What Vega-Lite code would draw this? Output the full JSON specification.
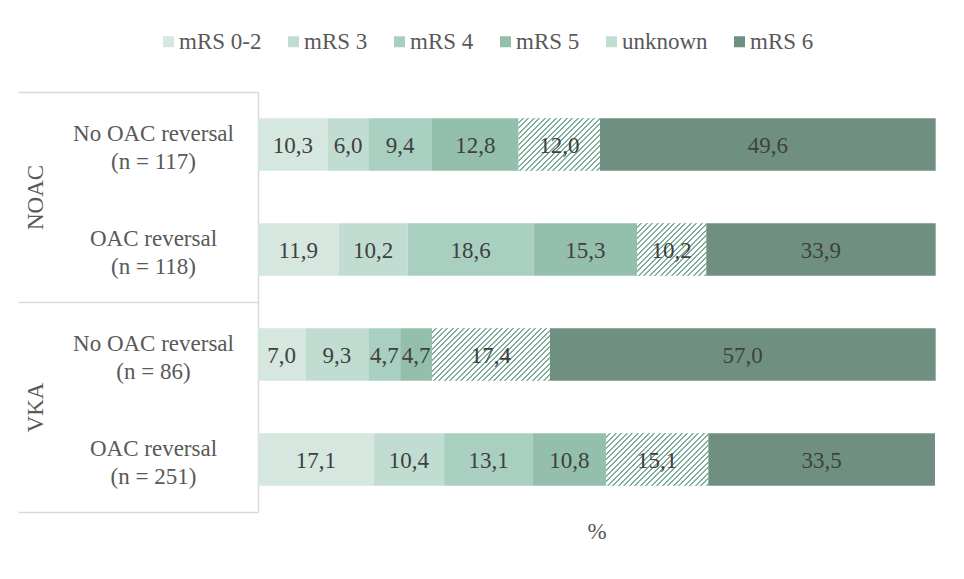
{
  "$schema": "https://vega.github.io/schema/vega-lite/v6.json",
  "width": 677,
  "height": 420,
  "autosize": {"type": "none"},
  "padding": {"left": 258, "top": 92, "right": 29, "bottom": 67},
  "config": {
    "font": "Liberation Serif",
    "view": {"stroke": null},
    "locale": {"number": {"decimal": ",", "thousands": ".", "grouping": [3], "currency": ["", " €"]}}
  },
  "params": [
    {
      "name": "hatchStops",
      "value": [
        {"offset": 0, "color": "#fff"}, {"offset": 0.021, "color": "#fff"}, {"offset": 0.021, "color": "#7fae9c"}, {"offset": 0.0323, "color": "#7fae9c"},
        {"offset": 0.0323, "color": "#fff"}, {"offset": 0.0532, "color": "#fff"}, {"offset": 0.0532, "color": "#7fae9c"}, {"offset": 0.0645, "color": "#7fae9c"},
        {"offset": 0.0645, "color": "#fff"}, {"offset": 0.0855, "color": "#fff"}, {"offset": 0.0855, "color": "#7fae9c"}, {"offset": 0.0968, "color": "#7fae9c"},
        {"offset": 0.0968, "color": "#fff"}, {"offset": 0.1177, "color": "#fff"}, {"offset": 0.1177, "color": "#7fae9c"}, {"offset": 0.129, "color": "#7fae9c"},
        {"offset": 0.129, "color": "#fff"}, {"offset": 0.15, "color": "#fff"}, {"offset": 0.15, "color": "#7fae9c"}, {"offset": 0.1613, "color": "#7fae9c"},
        {"offset": 0.1613, "color": "#fff"}, {"offset": 0.1823, "color": "#fff"}, {"offset": 0.1823, "color": "#7fae9c"}, {"offset": 0.1935, "color": "#7fae9c"},
        {"offset": 0.1935, "color": "#fff"}, {"offset": 0.2145, "color": "#fff"}, {"offset": 0.2145, "color": "#7fae9c"}, {"offset": 0.2258, "color": "#7fae9c"},
        {"offset": 0.2258, "color": "#fff"}, {"offset": 0.2468, "color": "#fff"}, {"offset": 0.2468, "color": "#7fae9c"}, {"offset": 0.2581, "color": "#7fae9c"},
        {"offset": 0.2581, "color": "#fff"}, {"offset": 0.279, "color": "#fff"}, {"offset": 0.279, "color": "#7fae9c"}, {"offset": 0.2903, "color": "#7fae9c"},
        {"offset": 0.2903, "color": "#fff"}, {"offset": 0.3113, "color": "#fff"}, {"offset": 0.3113, "color": "#7fae9c"}, {"offset": 0.3226, "color": "#7fae9c"},
        {"offset": 0.3226, "color": "#fff"}, {"offset": 0.3435, "color": "#fff"}, {"offset": 0.3435, "color": "#7fae9c"}, {"offset": 0.3548, "color": "#7fae9c"},
        {"offset": 0.3548, "color": "#fff"}, {"offset": 0.3758, "color": "#fff"}, {"offset": 0.3758, "color": "#7fae9c"}, {"offset": 0.3871, "color": "#7fae9c"},
        {"offset": 0.3871, "color": "#fff"}, {"offset": 0.4081, "color": "#fff"}, {"offset": 0.4081, "color": "#7fae9c"}, {"offset": 0.4194, "color": "#7fae9c"},
        {"offset": 0.4194, "color": "#fff"}, {"offset": 0.4403, "color": "#fff"}, {"offset": 0.4403, "color": "#7fae9c"}, {"offset": 0.4516, "color": "#7fae9c"},
        {"offset": 0.4516, "color": "#fff"}, {"offset": 0.4726, "color": "#fff"}, {"offset": 0.4726, "color": "#7fae9c"}, {"offset": 0.4839, "color": "#7fae9c"},
        {"offset": 0.4839, "color": "#fff"}, {"offset": 0.5048, "color": "#fff"}, {"offset": 0.5048, "color": "#7fae9c"}, {"offset": 0.5161, "color": "#7fae9c"},
        {"offset": 0.5161, "color": "#fff"}, {"offset": 0.5371, "color": "#fff"}, {"offset": 0.5371, "color": "#7fae9c"}, {"offset": 0.5484, "color": "#7fae9c"},
        {"offset": 0.5484, "color": "#fff"}, {"offset": 0.5694, "color": "#fff"}, {"offset": 0.5694, "color": "#7fae9c"}, {"offset": 0.5806, "color": "#7fae9c"},
        {"offset": 0.5806, "color": "#fff"}, {"offset": 0.6016, "color": "#fff"}, {"offset": 0.6016, "color": "#7fae9c"}, {"offset": 0.6129, "color": "#7fae9c"},
        {"offset": 0.6129, "color": "#fff"}, {"offset": 0.6339, "color": "#fff"}, {"offset": 0.6339, "color": "#7fae9c"}, {"offset": 0.6452, "color": "#7fae9c"},
        {"offset": 0.6452, "color": "#fff"}, {"offset": 0.6661, "color": "#fff"}, {"offset": 0.6661, "color": "#7fae9c"}, {"offset": 0.6774, "color": "#7fae9c"},
        {"offset": 0.6774, "color": "#fff"}, {"offset": 0.6984, "color": "#fff"}, {"offset": 0.6984, "color": "#7fae9c"}, {"offset": 0.7097, "color": "#7fae9c"},
        {"offset": 0.7097, "color": "#fff"}, {"offset": 0.7306, "color": "#fff"}, {"offset": 0.7306, "color": "#7fae9c"}, {"offset": 0.7419, "color": "#7fae9c"},
        {"offset": 0.7419, "color": "#fff"}, {"offset": 0.7629, "color": "#fff"}, {"offset": 0.7629, "color": "#7fae9c"}, {"offset": 0.7742, "color": "#7fae9c"},
        {"offset": 0.7742, "color": "#fff"}, {"offset": 0.7952, "color": "#fff"}, {"offset": 0.7952, "color": "#7fae9c"}, {"offset": 0.8065, "color": "#7fae9c"},
        {"offset": 0.8065, "color": "#fff"}, {"offset": 0.8274, "color": "#fff"}, {"offset": 0.8274, "color": "#7fae9c"}, {"offset": 0.8387, "color": "#7fae9c"},
        {"offset": 0.8387, "color": "#fff"}, {"offset": 0.8597, "color": "#fff"}, {"offset": 0.8597, "color": "#7fae9c"}, {"offset": 0.871, "color": "#7fae9c"},
        {"offset": 0.871, "color": "#fff"}, {"offset": 0.8919, "color": "#fff"}, {"offset": 0.8919, "color": "#7fae9c"}, {"offset": 0.9032, "color": "#7fae9c"},
        {"offset": 0.9032, "color": "#fff"}, {"offset": 0.9242, "color": "#fff"}, {"offset": 0.9242, "color": "#7fae9c"}, {"offset": 0.9355, "color": "#7fae9c"},
        {"offset": 0.9355, "color": "#fff"}, {"offset": 0.9565, "color": "#fff"}, {"offset": 0.9565, "color": "#7fae9c"}, {"offset": 0.9677, "color": "#7fae9c"},
        {"offset": 0.9677, "color": "#fff"}, {"offset": 0.9887, "color": "#fff"}, {"offset": 0.9887, "color": "#7fae9c"}, {"offset": 1, "color": "#7fae9c"}
      ]
    }
  ],
  "data": {
    "values": [
      {"group": "NOAC", "row": "No OAC reversal (n = 117)", "cat": "mRS 0-2", "order": 1, "value": 10.3},
      {"group": "NOAC", "row": "No OAC reversal (n = 117)", "cat": "mRS 3", "order": 2, "value": 6.0},
      {"group": "NOAC", "row": "No OAC reversal (n = 117)", "cat": "mRS 4", "order": 3, "value": 9.4},
      {"group": "NOAC", "row": "No OAC reversal (n = 117)", "cat": "mRS 5", "order": 4, "value": 12.8},
      {"group": "NOAC", "row": "No OAC reversal (n = 117)", "cat": "unknown", "order": 5, "value": 12.0},
      {"group": "NOAC", "row": "No OAC reversal (n = 117)", "cat": "mRS 6", "order": 6, "value": 49.6},
      {"group": "NOAC", "row": "OAC reversal (n = 118)", "cat": "mRS 0-2", "order": 1, "value": 11.9},
      {"group": "NOAC", "row": "OAC reversal (n = 118)", "cat": "mRS 3", "order": 2, "value": 10.2},
      {"group": "NOAC", "row": "OAC reversal (n = 118)", "cat": "mRS 4", "order": 3, "value": 18.6},
      {"group": "NOAC", "row": "OAC reversal (n = 118)", "cat": "mRS 5", "order": 4, "value": 15.3},
      {"group": "NOAC", "row": "OAC reversal (n = 118)", "cat": "unknown", "order": 5, "value": 10.2},
      {"group": "NOAC", "row": "OAC reversal (n = 118)", "cat": "mRS 6", "order": 6, "value": 33.9},
      {"group": "VKA", "row": "No OAC reversal (n = 86)", "cat": "mRS 0-2", "order": 1, "value": 7.0},
      {"group": "VKA", "row": "No OAC reversal (n = 86)", "cat": "mRS 3", "order": 2, "value": 9.3},
      {"group": "VKA", "row": "No OAC reversal (n = 86)", "cat": "mRS 4", "order": 3, "value": 4.7},
      {"group": "VKA", "row": "No OAC reversal (n = 86)", "cat": "mRS 5", "order": 4, "value": 4.7},
      {"group": "VKA", "row": "No OAC reversal (n = 86)", "cat": "unknown", "order": 5, "value": 17.4},
      {"group": "VKA", "row": "No OAC reversal (n = 86)", "cat": "mRS 6", "order": 6, "value": 57.0},
      {"group": "VKA", "row": "OAC reversal (n = 251)", "cat": "mRS 0-2", "order": 1, "value": 17.1},
      {"group": "VKA", "row": "OAC reversal (n = 251)", "cat": "mRS 3", "order": 2, "value": 10.4},
      {"group": "VKA", "row": "OAC reversal (n = 251)", "cat": "mRS 4", "order": 3, "value": 13.1},
      {"group": "VKA", "row": "OAC reversal (n = 251)", "cat": "mRS 5", "order": 4, "value": 10.8},
      {"group": "VKA", "row": "OAC reversal (n = 251)", "cat": "unknown", "order": 5, "value": 15.1},
      {"group": "VKA", "row": "OAC reversal (n = 251)", "cat": "mRS 6", "order": 6, "value": 33.5}
    ]
  },
  "transform": [
    {"stack": "value", "groupby": ["row"], "sort": [{"field": "order", "order": "ascending"}], "as": ["x0", "x1"]},
    {"calculate": "(datum.x0 + datum.x1) / 2", "as": "xm"}
  ],
  "resolve": {"scale": {"y": "independent"}, "axis": {"y": "independent"}},
  "layer": [
    {
      "encoding": {
        "y": {
          "field": "row",
          "type": "nominal",
          "sort": null,
          "scale": {"paddingInner": 0.5, "paddingOuter": 0.25},
          "axis": {
            "orient": "left",
            "title": null,
            "domain": true,
            "domainColor": "#d9d9d9",
            "domainWidth": 1.5,
            "ticks": false,
            "tickSize": 0,
            "labelExpr": "split(replace(datum.label, ' (', '|('), '|')",
            "labelAlign": "center",
            "labelBaseline": "middle",
            "labelPadding": 105,
            "labelOffset": -11,
            "labelFontSize": 23,
            "labelColor": "#595959",
            "labelLineHeight": 28,
            "labelLimit": 300
          }
        }
      },
      "layer": [
        {
          "mark": {"type": "bar"},
          "encoding": {
            "x": {
              "field": "x0",
              "type": "quantitative",
              "scale": {"domain": [0, 100], "nice": false, "zero": true},
              "axis": {
                "title": "%",
                "labels": false,
                "ticks": false,
                "domain": false,
                "grid": false,
                "titleFontSize": 23,
                "titleFontWeight": "normal",
                "titleColor": "#595959",
                "titlePadding": 8
              }
            },
            "x2": {"field": "x1"},
            "color": {
              "field": "cat",
              "type": "nominal",
              "scale": {
                "domain": ["mRS 0-2", "mRS 3", "mRS 4", "mRS 5", "unknown", "mRS 6"],
                "range": ["#d5e7df", "#c1ddd2", "#a9cfc1", "#94bfac", "#c4ddd3", "#6f9080"]
              },
              "legend": {
                "title": null,
                "orient": "none",
                "legendX": -101,
                "legendY": -62,
                "direction": "horizontal",
                "symbolType": "square",
                "symbolSize": 121,
                "symbolStrokeWidth": 0,
                "symbolOpacity": 1,
                "labelFontSize": 23,
                "labelColor": "#595959",
                "labelOffset": -1,
                "columnPadding": 20,
                "padding": 0,
                "labelLimit": 200,
                "encode": {
                  "symbols": {
                    "update": {
                      "fill": {"value": {"expr": "datum.label === 'unknown' ? {gradient: 'linear', x1: 0, y1: 0, x2: 7.75, y2: 7.75, stops: hatchStops} : scale('color', datum.label)"}}
                    }
                  }
                }
              }
            }
          }
        },
        {
          "transform": [{"filter": "datum.cat === 'unknown' && datum.row === 'No OAC reversal (n = 117)'"}],
          "mark": {"type": "bar", "fill": {"expr": "{gradient: 'linear', x1: 0, y1: 0, x2: 1.4805, y2: 0.9567, stops: hatchStops}"}},
          "encoding": {"x": {"field": "x0", "type": "quantitative"}, "x2": {"field": "x1"}}
        },
        {
          "transform": [{"filter": "datum.cat === 'unknown' && datum.row === 'OAC reversal (n = 118)'"}],
          "mark": {"type": "bar", "fill": {"expr": "{gradient: 'linear', x1: 0, y1: 0, x2: 1.5647, y2: 1.1897, stops: hatchStops}"}},
          "encoding": {"x": {"field": "x0", "type": "quantitative"}, "x2": {"field": "x1"}}
        },
        {
          "transform": [{"filter": "datum.cat === 'unknown' && datum.row === 'No OAC reversal (n = 86)'"}],
          "mark": {"type": "bar", "fill": {"expr": "{gradient: 'linear', x1: 0, y1: 0, x2: 1.2075, y2: 0.5381, stops: hatchStops}"}},
          "encoding": {"x": {"field": "x0", "type": "quantitative"}, "x2": {"field": "x1"}}
        },
        {
          "transform": [{"filter": "datum.cat === 'unknown' && datum.row === 'OAC reversal (n = 251)'"}],
          "mark": {"type": "bar", "fill": {"expr": "{gradient: 'linear', x1: 0, y1: 0, x2: 1.3198, y2: 0.6777, stops: hatchStops}"}},
          "encoding": {"x": {"field": "x0", "type": "quantitative"}, "x2": {"field": "x1"}}
        },
        {
          "mark": {"type": "text", "fontSize": 23, "color": "#404040", "align": "center", "baseline": "middle", "dy": 1},
          "encoding": {
            "x": {"field": "xm", "type": "quantitative"},
            "text": {"field": "value", "type": "quantitative", "format": ".1f"}
          }
        }
      ]
    },
    {
      "mark": {"type": "point", "opacity": 0},
      "encoding": {
        "x": {"datum": 0, "type": "quantitative"},
        "y": {
          "field": "group",
          "type": "nominal",
          "sort": null,
          "scale": {"paddingInner": 0, "paddingOuter": 0},
          "axis": {
            "orient": "left",
            "title": null,
            "domain": false,
            "ticks": true,
            "tickBand": "extent",
            "tickSize": 240,
            "tickColor": "#d9d9d9",
            "tickWidth": 1.5,
            "labelAngle": 270,
            "labelAlign": "center",
            "labelBaseline": "middle",
            "labelPadding": -17,
            "labelFontSize": 23,
            "labelColor": "#595959"
          }
        }
      }
    }
  ]
}
